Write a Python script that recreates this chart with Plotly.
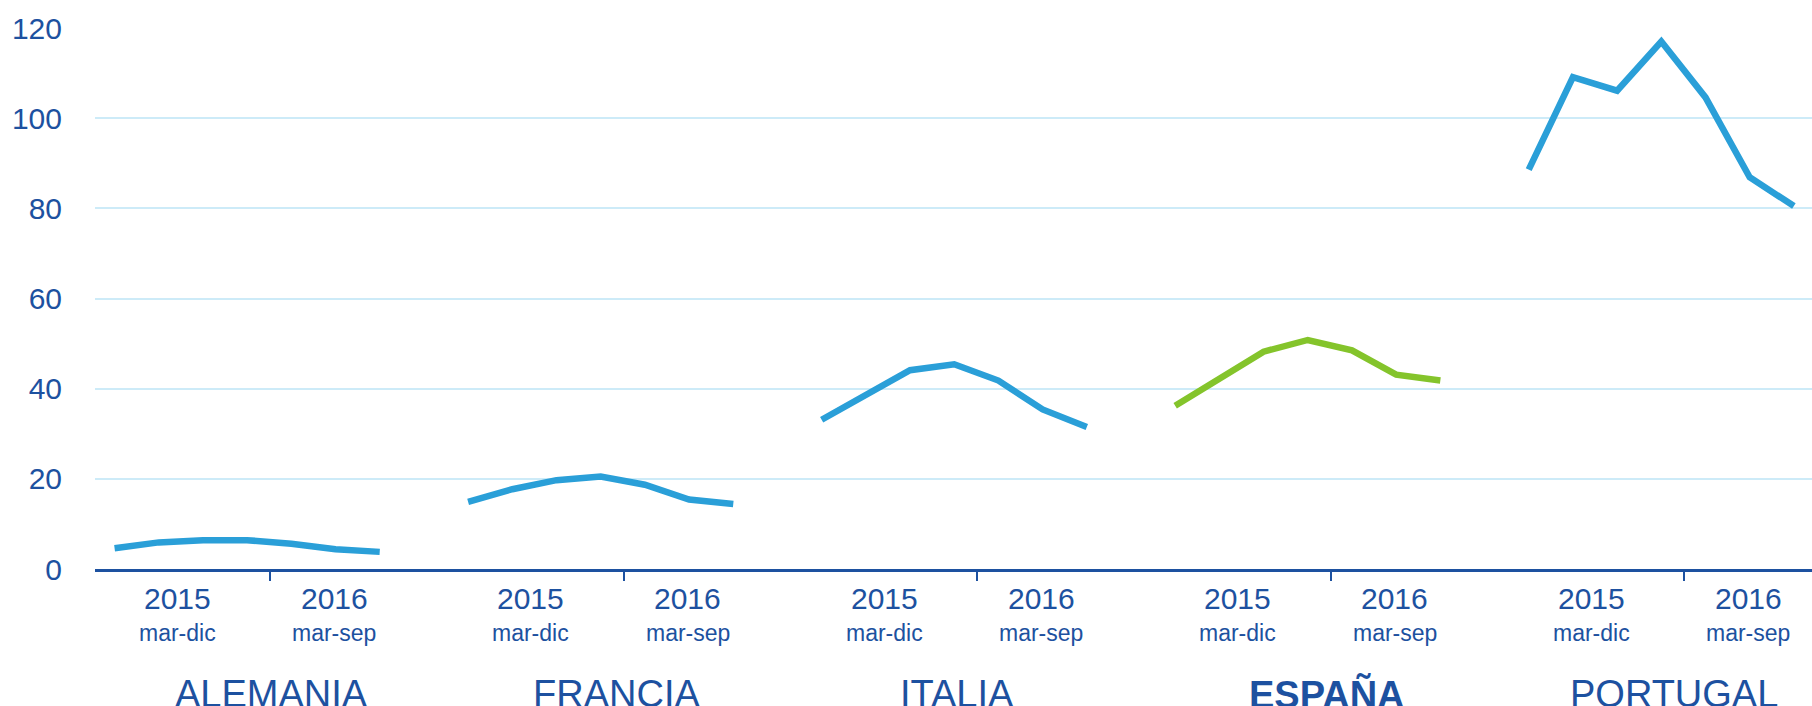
import plotly.graph_objects as go

countries = ["ALEMANIA", "FRANCIA", "ITALIA", "ESPAÑA", "PORTUGAL"]
alemania = [4.6, 5.9, 6.4, 6.4, 5.6, 4.4, 3.8]
francia = [14.9, 17.7, 19.7, 20.5, 18.7, 15.4, 14.4]
italia = [33.1, 38.7, 44.1, 45.4, 41.8, 35.4, 31.5]
espana = [36.2, 42.1, 48.2, 50.8, 48.5, 43.1, 41.8]
portugal = [88.6, 109.1, 106.1, 117.0, 104.6, 86.9, 80.5]
series = [alemania, francia, italia, espana, portugal]
year_labels = ["2015", "2016"]
period_labels = ["mar-dic", "mar-sep"]
y_ticks = [0, 20, 40, 60, 80, 100, 120]

BLUE = "#2a9fd8"
GREEN = "#84c42b"
TEXT = "#1d51a0"
GRID = "#cdebf8"
FONT = "Liberation Sans, Arial, sans-serif"

GROUP = 8  # spacing between country groups in x units
label_offsets = [3.54, 3.35, 3.06, 3.43, 3.28]

fig = go.Figure()
for g, vals in enumerate(series):
    xs = [GROUP * g + i for i in range(len(vals))]
    color = GREEN if countries[g] == "ESPAÑA" else BLUE
    fig.add_trace(go.Scatter(
        x=xs, y=vals, mode="lines",
        line=dict(color=color, width=6.5),
        cliponaxis=False, showlegend=False, hoverinfo="skip"))

annotations = []
for g, name in enumerate(countries):
    base = GROUP * g
    for k, (yr, per) in enumerate(zip(year_labels, period_labels)):
        xpos = base + (1.42 if k == 0 else 4.97)
        annotations.append(dict(x=xpos, y=0, xref="x", yref="paper", yanchor="middle",
                                yshift=-29, text=yr, showarrow=False,
                                font=dict(family=FONT, size=30, color=TEXT)))
        annotations.append(dict(x=xpos, y=0, xref="x", yref="paper", yanchor="middle",
                                yshift=-64, text=per, showarrow=False,
                                font=dict(family=FONT, size=23, color=TEXT)))
    txt = "<b>%s</b>" % name if name == "ESPAÑA" else name
    annotations.append(dict(x=base + label_offsets[g], y=0, xref="x", yref="paper",
                            yanchor="middle", yshift=-125, text=txt, showarrow=False,
                            font=dict(family=FONT, size=38, color=TEXT)))

fig.update_layout(
    width=1812, height=706,
    margin=dict(l=95, r=0, t=28, b=137),
    paper_bgcolor="white", plot_bgcolor="white",
    annotations=annotations,
    xaxis=dict(range=[-0.443, 38.41], showgrid=False, zeroline=False, automargin=False,
               showline=True, linecolor=TEXT, linewidth=3,
               tickvals=[GROUP * g + 3.52 for g in range(len(countries))],
               ticktext=["" for _ in countries],
               ticks="outside", ticklen=9, tickwidth=2, tickcolor=TEXT),
    yaxis=dict(range=[0, 120], tickvals=y_ticks, showgrid=True, gridcolor=GRID,
               gridwidth=1.5, zeroline=False, showline=False, ticks="", automargin=False,
               ticklabelstandoff=32,
               tickfont=dict(family=FONT, size=30, color=TEXT)),
)

fig.write_html("out.html", config={"displayModeBar": False},
               post_script="document.body.style.margin='0';document.body.style.overflow='hidden';")
